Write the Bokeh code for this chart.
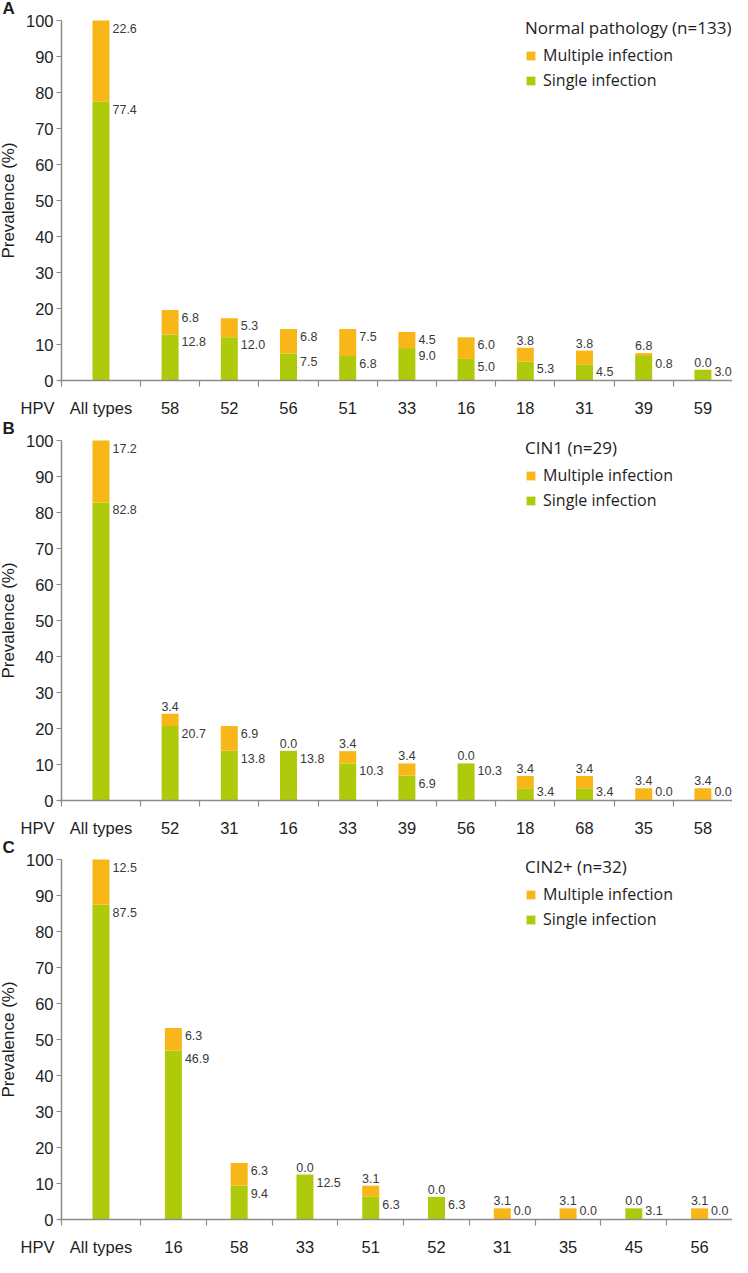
from bokeh.plotting import figure
from bokeh.models import ColumnDataSource, Range1d, FixedTicker, Legend, LegendItem
from bokeh.layouts import column
from bokeh.embed import file_html
from bokeh.resources import INLINE
from bokeh.core.properties import value

# ---------------- data ----------------
letters = ["A", "B", "C"]
group_titles = ["Normal pathology (n=133)", "CIN1 (n=29)", "CIN2+ (n=32)"]
series_names = ["Multiple infection", "Single infection"]
axis_name = "HPV"
y_title = "Prevalence (%)"

cats_a = ["All types", "58", "52", "56", "51", "33", "16", "18", "31", "39", "59"]
single_a = [77.4, 12.8, 12.0, 7.5, 6.8, 9.0, 6.0, 5.3, 4.5, 6.8, 3.0]
multiple_a = [22.6, 6.8, 5.3, 6.8, 7.5, 4.5, 6.0, 3.8, 3.8, 0.8, 0.0]
toplab_a = ["22.6", "6.8", "5.3", "6.8", "7.5", "4.5", "6.0", "3.8", "3.8", "6.8", "0.0"]
seglab_a = ["77.4", "12.8", "12.0", "7.5", "6.8", "9.0", "5.0", "5.3", "4.5", "0.8", "3.0"]
style_a = ["right", "right", "right", "right", "right", "right", "right", "above", "above", "above", "above"]

cats_b = ["All types", "52", "31", "16", "33", "39", "56", "18", "68", "35", "58"]
single_b = [82.8, 20.7, 13.8, 13.8, 10.3, 6.9, 10.3, 3.4, 3.4, 0.0, 0.0]
multiple_b = [17.2, 3.4, 6.9, 0.0, 3.4, 3.4, 0.0, 3.4, 3.4, 3.4, 3.4]
toplab_b = ["17.2", "3.4", "6.9", "0.0", "3.4", "3.4", "0.0", "3.4", "3.4", "3.4", "3.4"]
seglab_b = ["82.8", "20.7", "13.8", "13.8", "10.3", "6.9", "10.3", "3.4", "3.4", "0.0", "0.0"]
style_b = ["right", "above", "right", "above", "above", "above", "above", "above", "above", "above", "above"]

cats_c = ["All types", "16", "58", "33", "51", "52", "31", "35", "45", "56"]
single_c = [87.5, 46.9, 9.4, 12.5, 6.3, 6.3, 0.0, 0.0, 3.1, 0.0]
multiple_c = [12.5, 6.3, 6.3, 0.0, 3.1, 0.0, 3.1, 3.1, 0.0, 3.1]
toplab_c = ["12.5", "6.3", "6.3", "0.0", "3.1", "0.0", "3.1", "3.1", "0.0", "3.1"]
seglab_c = ["87.5", "46.9", "9.4", "12.5", "6.3", "6.3", "0.0", "0.0", "3.1", "0.0"]
style_c = ["right", "right", "right", "above", "above", "above", "above", "above", "above", "above"]

y_ticks = [0, 10, 20, 30, 40, 50, 60, 70, 80, 90, 100]
Y_MAX = 100

# ---------------- style / layout ----------------
GREEN = "#AFCA0B"
ORANGE = "#F9B619"
AXIS = "#8C8C8C"
TXT = "#1E1E1E"
VAL = "#3A3A3A"
FIG_W = 732
FIG_HS = [420, 419, 418]
PLOT_PX = 360        # px for 0..100
AXIS_X = 61          # px from figure left to y axis
TOP_PAD = 20         # px above the 100 line
FIRST_PX, BAR_PX = 79, 17
LABEL_FLOOR = 4.5
AXFONT = "Liberation Sans"
LEGFONT = "Open Sans"


def panel(fig_h, letter, title, cats, single, multiple, toplab, seglab, style):
    n = len(cats) - 1
    unit_px = (FIG_W - AXIS_X - FIRST_PX) / n
    first_w = round(FIRST_PX / unit_px, 4)
    bw = BAR_PX / unit_px
    x_start = -first_w - AXIS_X / unit_px
    ppu = PLOT_PX / Y_MAX
    bottom_px = fig_h - TOP_PAD - PLOT_PX
    y_start = -bottom_px / ppu
    y_end = Y_MAX + TOP_PAD / ppu

    xs = [round(-first_w / 2, 4)] + [k + 0.5 for k in range(n)]
    bounds = [-first_w] + [float(k) for k in range(n + 1)]
    hpv_x = round(-first_w - 24 / unit_px, 4)
    total = [s + m for s, m in zip(single, multiple)]

    p = figure(width=FIG_W, height=fig_h, x_range=Range1d(x_start, n), y_range=Range1d(y_start, y_end),
               output_backend="svg", toolbar_location=None,
               min_border_left=0, min_border_right=0, min_border_top=0, min_border_bottom=0)
    p.outline_line_color = None
    p.grid.visible = False
    p.background_fill_color = "white"

    src = ColumnDataSource(dict(x=xs, single=single, total=total))
    r_single = p.vbar(x="x", width=bw, bottom=0, top="single", source=src,
                      fill_color=GREEN, line_color=None)
    r_mult = p.vbar(x="x", width=bw, bottom="single", top="total", source=src,
                    fill_color=ORANGE, line_color=None)

    # value labels
    rt = dict(x=[], y=[], t=[])
    ab = dict(x=[], y=[], t=[])
    sg = dict(x=[], y=[], t=[])
    for i in range(len(cats)):
        if style[i] == "right":
            rt["x"].append(xs[i] + bw / 2); rt["y"].append(total[i]); rt["t"].append(toplab[i])
        else:
            ab["x"].append(xs[i]); ab["y"].append(total[i]); ab["t"].append(toplab[i])
        sg["x"].append(xs[i] + bw / 2); sg["y"].append(max(single[i], LABEL_FLOOR)); sg["t"].append(seglab[i])
    common = dict(text="t", text_font=value(AXFONT), text_font_size="12.5px", text_color=VAL)
    p.text(x="x", y="y", source=ColumnDataSource(rt), x_offset=3, y_offset=3,
           text_align="left", text_baseline="top", **common)
    p.text(x="x", y="y", source=ColumnDataSource(sg), x_offset=3, y_offset=3,
           text_align="left", text_baseline="top", **common)
    p.text(x="x", y="y", source=ColumnDataSource(ab), x_offset=0, y_offset=-3,
           text_align="center", text_baseline="bottom", **common)

    # panel letter
    p.text(x=[x_start + 2 / unit_px], y=[Y_MAX + 12 / ppu], text=[letter],
           text_font=value(AXFONT), text_font_size="17px", text_font_style="bold",
           text_color=TXT, text_align="left", text_baseline="middle")

    # y axis, fixed at the first category's left edge
    ya = p.yaxis[0]
    ya.fixed_location = -first_w
    ya.bounds = (0, Y_MAX)
    ya.ticker = FixedTicker(ticks=y_ticks)
    ya.axis_line_color = AXIS
    ya.axis_line_width = 1.5
    ya.major_tick_line_color = AXIS
    ya.major_tick_out = 5
    ya.major_tick_in = 0
    ya.minor_tick_line_color = None
    ya.major_label_standoff = 3
    ya.major_label_text_font = AXFONT
    ya.major_label_text_font_size = "16.5px"
    ya.major_label_text_color = TXT
    ya.axis_label = y_title
    ya.axis_label_text_font = AXFONT
    ya.axis_label_text_font_size = "17px"
    ya.axis_label_text_font_style = "normal"
    ya.axis_label_text_color = TXT
    ya.axis_label_standoff = 5

    # x axis, fixed at y = 0
    xa = p.xaxis[0]
    xa.fixed_location = 0
    xa.bounds = (-first_w - 3 / unit_px, n)
    xa.ticker = FixedTicker(ticks=[hpv_x] + xs, minor_ticks=bounds)
    overrides = {hpv_x: axis_name}
    overrides.update({x: c for x, c in zip(xs, cats)})
    xa.major_label_overrides = overrides
    xa.axis_line_color = AXIS
    xa.axis_line_width = 1.5
    xa.major_tick_line_color = None
    xa.major_tick_out = 0
    xa.major_tick_in = 0
    xa.minor_tick_line_color = AXIS
    xa.minor_tick_line_width = 1.2
    xa.minor_tick_out = 6
    xa.minor_tick_in = 0
    xa.major_label_standoff = 12
    xa.major_label_text_font = AXFONT
    xa.major_label_text_font_size = "16.5px"
    xa.major_label_text_color = TXT

    leg = Legend(items=[LegendItem(label=series_names[0], renderers=[r_mult]),
                        LegendItem(label=series_names[1], renderers=[r_single])],
                 title=title, location=(525, fig_h - 91),
                 border_line_color=None, background_fill_alpha=0, padding=0, margin=0,
                 spacing=3, label_height=20, label_standoff=7, glyph_width=11, glyph_height=11,
                 title_standoff=5, title_text_font=LEGFONT, title_text_font_size="17px",
                 title_text_font_style="normal", title_text_color=TXT,
                 label_text_font=LEGFONT, label_text_font_size="16px", label_text_color=TXT)
    p.add_layout(leg)
    return p


pa = panel(FIG_HS[0], letters[0], group_titles[0], cats_a, single_a, multiple_a, toplab_a, seglab_a, style_a)
pb = panel(FIG_HS[1], letters[1], group_titles[1], cats_b, single_b, multiple_b, toplab_b, seglab_b, style_b)
pc = panel(FIG_HS[2], letters[2], group_titles[2], cats_c, single_c, multiple_c, toplab_c, seglab_c, style_c)

layout = column(pa, pb, pc, spacing=0)
open("out.html", "w").write(file_html(layout, INLINE))
